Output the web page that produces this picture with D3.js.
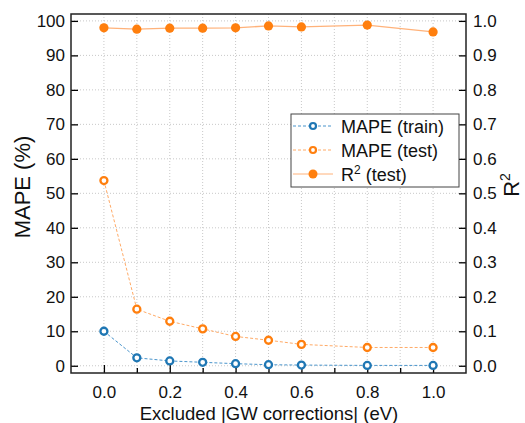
<!DOCTYPE html>
<html>
<head>
<meta charset="utf-8">
<script src="https://cdn.jsdelivr.net/npm/d3@7"></script>
<style>
  body { margin: 0; background: #fff; }
  svg { font-family: "Liberation Sans", Arial, sans-serif; }
</style>
</head>
<body>
<div id="svg-container"></div>
<script>
const cutoffs = [0.0, 0.1, 0.2, 0.3, 0.4, 0.5, 0.6, 0.8, 1.0]
const mapeTrain = [10.0, 2.3, 1.4, 1.0, 0.6, 0.3, 0.2, 0.1, 0.1]
const mapeTest = [53.7, 16.4, 12.9, 10.7, 8.5, 7.4, 6.2, 5.3, 5.3]
const r2Test = [0.980, 0.976, 0.979, 0.979, 0.980, 0.9855, 0.9826, 0.988, 0.968]
const xTicks = [0, 0.2, 0.4, 0.6, 0.8, 1.0]
const xMinor = [0.1, 0.3, 0.5, 0.7, 0.9]
const yTicks = [0, 10, 20, 30, 40, 50, 60, 70, 80, 90, 100]
const r2Ticks = [0, 0.1, 0.2, 0.3, 0.4, 0.5, 0.6, 0.7, 0.8, 0.9, 1.0]

const width = 525
const height = 423
const margin = { top: 14, right: 59, bottom: 50, left: 71 }

const svg = d3.select('#svg-container').append('svg')
  .attr('width', width).attr('height', height)

const x = d3.scaleLinear().domain([-0.1, 1.1]).range([margin.left, width - margin.right])
const y = d3.scaleLinear().domain([-2.1, 102]).range([height - margin.bottom, margin.top])
const y2 = d3.scaleLinear().domain([-0.021, 1.02]).range([height - margin.bottom, margin.top])

// grid
const grid = svg.append('g').attr('stroke', '#c8c8c8').attr('stroke-width', 1).attr('stroke-dasharray', '1,2')
grid.selectAll('.gx').data(d3.range(0, 11).map(i => i / 10)).join('line')
  .attr('x1', d => x(d)).attr('x2', d => x(d))
  .attr('y1', margin.top).attr('y2', height - margin.bottom)
grid.selectAll('.gy').data(yTicks).join('line')
  .attr('x1', margin.left).attr('x2', width - margin.right)
  .attr('y1', d => y(d)).attr('y2', d => y(d))

// axes (ticks inward)
const bottom = height - margin.bottom
svg.append('g').attr('transform', `translate(0,${bottom})`)
  .call(d3.axisBottom(x).tickValues(xTicks).tickFormat(d3.format('.1f')).tickSizeInner(-8).tickSizeOuter(0).tickPadding(13))
svg.append('g').attr('transform', `translate(0,${bottom})`)
  .call(d3.axisBottom(x).tickValues(xMinor).tickFormat('').tickSizeInner(-5).tickSizeOuter(0))
svg.append('g').attr('transform', `translate(${margin.left},0)`)
  .call(d3.axisLeft(y).tickValues(yTicks).tickSizeInner(-7).tickSizeOuter(0).tickPadding(6))
svg.append('g').attr('transform', `translate(${width - margin.right},0)`)
  .call(d3.axisRight(y2).tickValues(r2Ticks).tickFormat(d3.format('.1f')).tickSizeInner(-7).tickSizeOuter(0).tickPadding(7))

svg.selectAll('.domain').remove()
svg.selectAll('.tick line').attr('stroke', '#000').attr('stroke-width', 1.3)
svg.selectAll('.tick text').attr('font-size', 17).attr('fill', '#111')
  .attr('font-family', '"Liberation Sans", Arial, sans-serif')

// frame
svg.append('rect')
  .attr('x', margin.left).attr('y', margin.top)
  .attr('width', width - margin.left - margin.right)
  .attr('height', height - margin.top - margin.bottom)
  .attr('fill', 'none').attr('stroke', '#222').attr('stroke-width', 1.5)

const blue = '#1f77b4'
const orange = '#ff7f0e'

const trainPts = cutoffs.map((c, i) => [c, mapeTrain[i]])
const testPts = cutoffs.map((c, i) => [c, mapeTest[i]])
const r2Pts = cutoffs.map((c, i) => [c, r2Test[i]])

const line1 = d3.line().x(d => x(d[0])).y(d => y(d[1]))
const line2 = d3.line().x(d => x(d[0])).y(d => y2(d[1]))

svg.append('path').attr('d', line2(r2Pts)).attr('fill', 'none')
  .attr('stroke', '#ffb27a').attr('stroke-width', 1.3)
svg.append('path').attr('d', line1(testPts)).attr('fill', 'none')
  .attr('stroke', '#ffaa66').attr('stroke-width', 1).attr('stroke-dasharray', '3,2')
svg.append('path').attr('d', line1(trainPts)).attr('fill', 'none')
  .attr('stroke', '#4a95cc').attr('stroke-width', 1).attr('stroke-dasharray', '3,2')

svg.append('g').selectAll('circle').data(r2Pts).join('circle')
  .attr('cx', d => x(d[0])).attr('cy', d => y2(d[1])).attr('r', 4.6).attr('fill', orange)
svg.append('g').selectAll('circle').data(testPts).join('circle')
  .attr('cx', d => x(d[0])).attr('cy', d => y(d[1])).attr('r', 3.5)
  .attr('fill', '#fff').attr('stroke', orange).attr('stroke-width', 2.3)
svg.append('g').selectAll('circle').data(trainPts).join('circle')
  .attr('cx', d => x(d[0])).attr('cy', d => y(d[1])).attr('r', 3.5)
  .attr('fill', '#fff').attr('stroke', blue).attr('stroke-width', 2.3)

// legend
const lg = svg.append('g').attr('transform', 'translate(291,114)')
lg.append('rect').attr('width', 168).attr('height', 73)
  .attr('fill', '#fff').attr('stroke', '#444').attr('stroke-width', 1)
const items = [
  { label: 'MAPE (train)', color: '#4a95cc', mc: blue, dash: '3,2', open: true },
  { label: 'MAPE (test)', color: '#ffaa66', mc: orange, dash: '3,2', open: true },
  { label: 'R', color: '#ffb27a', mc: orange, dash: null, open: false },
]
items.forEach((it, i) => {
  const cy = 12 + i * 24
  lg.append('line').attr('x1', 2).attr('x2', 42).attr('y1', cy).attr('y2', cy)
    .attr('stroke', it.color).attr('stroke-width', 1).attr('stroke-dasharray', it.dash)
  if (it.open) {
    lg.append('circle').attr('cx', 22).attr('cy', cy).attr('r', 3)
      .attr('fill', '#fff').attr('stroke', it.mc).attr('stroke-width', 2.2)
  } else {
    lg.append('circle').attr('cx', 22).attr('cy', cy).attr('r', 4.5).attr('fill', it.mc)
  }
  const t = lg.append('text').attr('x', 50).attr('y', cy + 6.5).attr('font-size', 18).attr('fill', '#111')
  if (it.open) {
    t.text(it.label)
  } else {
    t.append('tspan').text('R')
    t.append('tspan').attr('font-size', 12).attr('dy', -7).text('2')
    t.append('tspan').attr('dy', 7).text(' (test)')
  }
})

// axis titles
svg.append('text').attr('x', 269).attr('y', 420).attr('text-anchor', 'middle')
  .attr('font-size', 18.5).attr('fill', '#111').text('Excluded |GW corrections| (eV)')
svg.append('text').attr('transform', 'translate(30,187) rotate(-90)').attr('text-anchor', 'middle')
  .attr('font-size', 22).attr('fill', '#111').text('MAPE (%)')
const r2t = svg.append('text').attr('transform', 'translate(519,185) rotate(-90)').attr('text-anchor', 'middle')
  .attr('font-size', 22).attr('fill', '#111')
r2t.append('tspan').text('R')
r2t.append('tspan').attr('font-size', 14).attr('dy', -9).text('2')
</script>
</body>
</html>
